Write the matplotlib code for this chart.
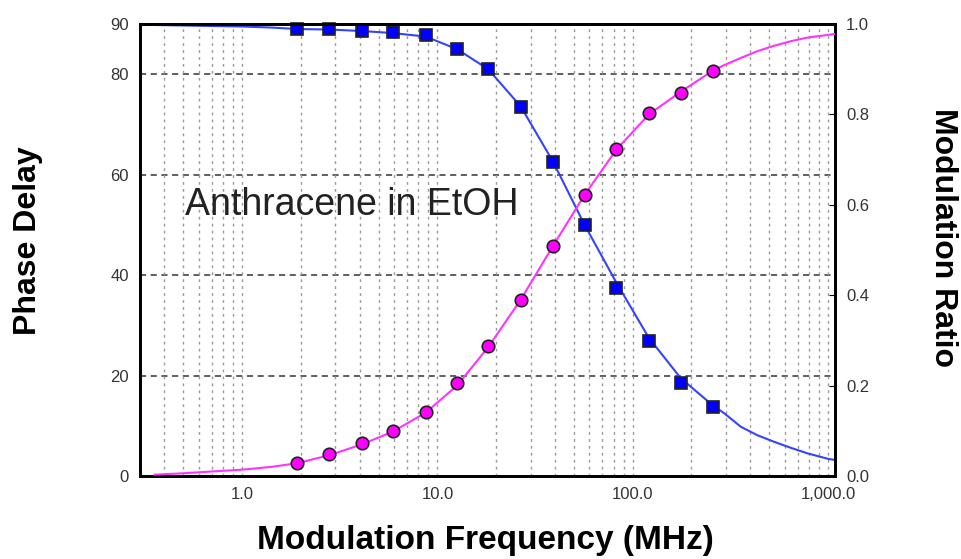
import numpy as np
import matplotlib.pyplot as plt
from matplotlib.ticker import FixedLocator, LogLocator, NullFormatter

# measured points (frequency in MHz)
freq = [1.9, 2.8, 4.1, 5.9, 8.7, 12.6, 18.2, 26.7, 39.2, 56.7, 82.5, 121, 176, 258]
phase = [89.0, 89.0, 88.7, 88.5, 87.8, 85.0, 81.0, 73.5, 62.6, 50.0, 37.5, 26.9, 18.5, 13.8]
modulation = [0.028, 0.048, 0.072, 0.099, 0.142, 0.205, 0.288, 0.389, 0.508,
              0.622, 0.723, 0.802, 0.848, 0.897]

# fitted curves
curve_freq = [0.357, 0.5, 0.7, 1.0, 1.4, 1.9, 2.8, 4.1, 5.9, 8.7, 12.6, 18.2, 26.7, 39.2,
              56.7, 82.5, 121, 176, 258, 294, 358, 436, 531, 646, 787, 1004, 1086]
phase_fit = [89.8, 89.7, 89.6, 89.5, 89.3, 89.0, 88.9, 88.6, 88.2, 87.5, 85.0, 81.0, 73.6,
             62.5, 50.0, 38.5, 27.5, 19.5, 14.0, 12.5, 9.8, 8.1, 6.8, 5.6, 4.5, 3.4, 3.2]
mod_fit = [0.003, 0.006, 0.010, 0.014, 0.020, 0.028, 0.046, 0.070, 0.098, 0.140, 0.200,
           0.285, 0.390, 0.510, 0.622, 0.722, 0.800, 0.850, 0.897, 0.909, 0.925, 0.940,
           0.952, 0.962, 0.970, 0.976, 0.978]

xticks = [1, 10, 100, 1000]
xticklabels = ['1.0', '10.0', '100.0', '1,000.0']
yticks_left = [0, 20, 40, 60, 80, 90]
yticks_right = [0.0, 0.2, 0.4, 0.6, 0.8, 1.0]

plt.rcParams['font.family'] = ['Liberation Sans', 'DejaVu Sans']

fig = plt.figure(figsize=(9.62, 5.59), dpi=100)
ax = fig.add_axes([140 / 962, 83 / 559, 695 / 962, 452 / 559])
ax.set_xscale('log')
ax.set_xlim(0.30, 1086)
ax.set_ylim(0, 90)

# grid
ax.xaxis.set_major_locator(FixedLocator(xticks))
ax.xaxis.set_minor_locator(LogLocator(base=10, subs=np.arange(2, 10)))
ax.xaxis.set_minor_formatter(NullFormatter())
ax.grid(True, which='both', axis='x', color='#999999', linestyle=(0, (2, 3)), linewidth=1)
for v in [20, 40, 60, 80]:
    ax.axhline(v, color='#333333', linestyle=(0, (4, 3)), linewidth=1.1, zorder=1)

ax.set_xticklabels(xticklabels)
ax.set_yticks(yticks_left)
ax.tick_params(axis='both', which='both', length=0, labelsize=12, labelcolor='#333333', pad=8)

ax.plot(curve_freq, phase_fit, color='#3344ff', linewidth=1.5, zorder=3)
ax.plot(freq, phase, 's', markersize=8.5, markerfacecolor='#0000ff',
        markeredgecolor='#222222', markeredgewidth=1.2, zorder=4, clip_on=False)

ax2 = ax.twinx()
ax2.set_ylim(0, 1.0)
ax2.set_yticks(yticks_right)
ax2.set_yticklabels([f'{v:.1f}' for v in yticks_right])
ax2.tick_params(axis='y', length=4, direction='in', labelsize=12, labelcolor='#333333', pad=8)
ax2.plot(curve_freq, mod_fit, color='#ff33ff', linewidth=1.5, zorder=3)
ax2.plot(freq, modulation, 'o', markersize=9, markerfacecolor='#ff00ff',
         markeredgecolor='#222222', markeredgewidth=1.2, zorder=4)

for a in (ax, ax2):
    for s in a.spines.values():
        s.set_linewidth(2)
        s.set_color('black')

ax.text(0.51, 54, 'Anthracene in EtOH', fontsize=27, color='#222222',
        va='center', ha='left', zorder=5)

fig.text(28 / 962, 1 - 241 / 559, 'Phase Delay', rotation=90, fontsize=23, fontweight='bold',
         ha='center', va='center')
fig.text(943 / 962, 1 - 237 / 559, 'Modulation Ratio', rotation=270, fontsize=23,
         fontweight='bold', ha='center', va='center')
fig.text(485 / 962, 1 - 541 / 559, 'Modulation Frequency (MHz)', fontsize=24,
         fontweight='bold', ha='center', va='center')

fig.savefig('out.png', dpi=100)
